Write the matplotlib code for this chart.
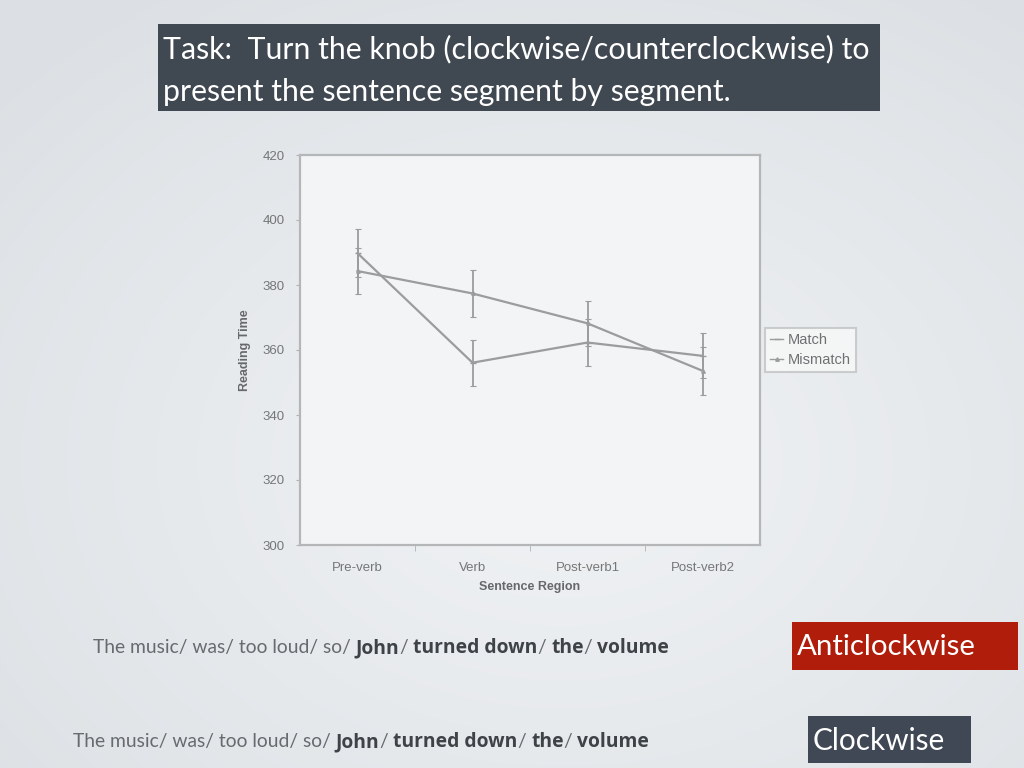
import numpy as np
import matplotlib
matplotlib.use("Agg")
import matplotlib.pyplot as plt
from matplotlib.patches import Rectangle
from matplotlib.lines import Line2D

# ---------------- data ----------------
regions = ["Pre-verb", "Verb", "Post-verb1", "Post-verb2"]
match_rt = [389.8, 356.1, 362.3, 358.2]
match_err = [7.3, 7.1, 7.3, 6.9]
mismatch_rt = [384.3, 377.4, 368.2, 353.6]
mismatch_err = [7.0, 7.3, 7.0, 7.4]
yticks = [300, 320, 340, 360, 380, 400, 420]
series_names = ["Match", "Mismatch"]

title_lines = ["Task:  Turn the knob (clockwise/counterclockwise) to",
               "present the sentence segment by segment."]
sent_plain = "The music/ was/ too loud/ so/ "
sent_bold = ["John", "/ ", "turned down", "/ ", "the", "/ ", "volume"]
btn_anti = "Anticlockwise"
btn_clock = "Clockwise"

W, H = 1024, 768
fig = plt.figure(figsize=(W / 100, H / 100), dpi=100)

# ---------------- slide background (radial gradient) ----------------
bg = fig.add_axes([0, 0, 1, 1], zorder=-10)
yy, xx = np.mgrid[0:H, 0:W]
r = np.sqrt(((xx - W * 0.55) / W) ** 2 + ((yy - H * 0.6) / H) ** 2)
c_in = np.array([0xf1, 0xf3, 0xf5]) / 255
c_out = np.array([0xdc, 0xe0, 0xe4]) / 255
t = np.clip(r / 0.75, 0, 1)[..., None]
img = c_in * (1 - t) + c_out * t
bg.imshow(img, extent=[0, W, H, 0], aspect="auto")
bg.set_xlim(0, W)
bg.set_ylim(H, 0)
bg.axis("off")

# title box
bg.add_patch(Rectangle((158, 24), 722, 87, facecolor="#404852", edgecolor="none"))
for i, line in enumerate(title_lines):
    bg.text(163, 49 + 43 * i, line, color="white", fontsize=21.8, family="Lato",
            va="center", ha="left")

# buttons
bg.add_patch(Rectangle((792, 622), 226, 48, facecolor="#b01d0b", edgecolor="none"))
bg.text(797, 647, btn_anti, color="white", fontsize=21.2, family="Lato",
        va="center", ha="left")
bg.add_patch(Rectangle((808, 716), 163, 47, facecolor="#3f4854", edgecolor="none"))
bg.text(813, 741, btn_clock, color="white", fontsize=21.4, family="Lato",
        va="center", ha="left")

# sentences with mixed weight
fig.canvas.draw()
renderer = fig.canvas.get_renderer()


def sentence(x0, y_base):
    t0 = bg.text(x0, y_base, sent_plain, color="#666b70", fontsize=13.85, family="Lato",
                 va="baseline", ha="left")
    bb = t0.get_window_extent(renderer)
    x = bg.transData.inverted().transform((bb.x1, bb.y0))[0]
    for i, seg in enumerate(sent_bold):
        bold = (i % 2 == 0)
        tt = bg.text(x, y_base, seg, color="#3e4348" if bold else "#666b70",
                     fontsize=13.85, family="Open Sans" if bold else "Lato",
                     fontweight="bold" if bold else "normal",
                     va="baseline", ha="left")
        bb = tt.get_window_extent(renderer)
        x = bg.transData.inverted().transform((bb.x1, bb.y0))[0]


sentence(93, 653)
sentence(73, 747)

# ---------------- chart ----------------
ax = fig.add_axes([300 / W, 1 - 545 / H, 460 / W, 390 / H])
ax.set_facecolor("#f3f4f5")
xpos = np.arange(len(regions))
line_col = "#9a9c9e"
ax.errorbar(xpos, match_rt, yerr=match_err, color=line_col, lw=1.6, marker="_",
            ms=5, capsize=2.5, elinewidth=1.3, capthick=0.8)
ax.errorbar(xpos, mismatch_rt, yerr=mismatch_err, color=line_col, lw=1.6, marker="^",
            ms=2.5, capsize=2.5, elinewidth=1.3, capthick=0.8)

ax.set_xlim(-0.5, len(regions) - 0.5)
ax.set_ylim(300, 420)
ax.set_yticks(yticks)
ax.set_yticklabels([str(v) for v in yticks], color="#747678", fontsize=9.5,
                   family="Liberation Sans")
ax.set_xticks(xpos)
ax.set_xticklabels(regions, color="#747678", fontsize=9.5, family="Liberation Sans")
ax.set_xticks(np.arange(0.5, len(regions) - 0.5, 1.0), minor=True)
ax.tick_params(axis="x", which="major", length=0, pad=12)
ax.tick_params(axis="x", which="minor", length=4, color="#b0b2b4", direction="out")
ax.tick_params(axis="y", length=3, color="#b0b2b4", direction="out", pad=8)
for s in ax.spines.values():
    s.set_color("#b4b6b8")
    s.set_linewidth(1.6)
ax.set_xlabel("Sentence Region", color="#66686a", fontsize=9, fontweight="bold",
              family="Liberation Sans", labelpad=5)
ax.set_ylabel("Reading Time", color="#66686a", fontsize=9, fontweight="bold",
              family="Liberation Sans", labelpad=8)

handles = [Line2D([], [], color=line_col, lw=1.0, marker="_", ms=4),
           Line2D([], [], color=line_col, lw=1.0, marker="^", ms=2.5)]
leg = ax.legend(handles, series_names, loc="center left", bbox_to_anchor=(0.995, 0.5),
                frameon=True, handlelength=0.9, handletextpad=0.3,
                borderpad=0.35, labelspacing=0.45, fancybox=False,
                prop={"family": "Liberation Sans", "size": 10.5})
leg.get_frame().set_edgecolor("#c0c2c4")
leg.get_frame().set_facecolor("#f8f9f9")
leg.get_frame().set_linewidth(1.5)
for txt in leg.get_texts():
    txt.set_color("#6e7072")

fig.savefig("out.png", dpi=100)
